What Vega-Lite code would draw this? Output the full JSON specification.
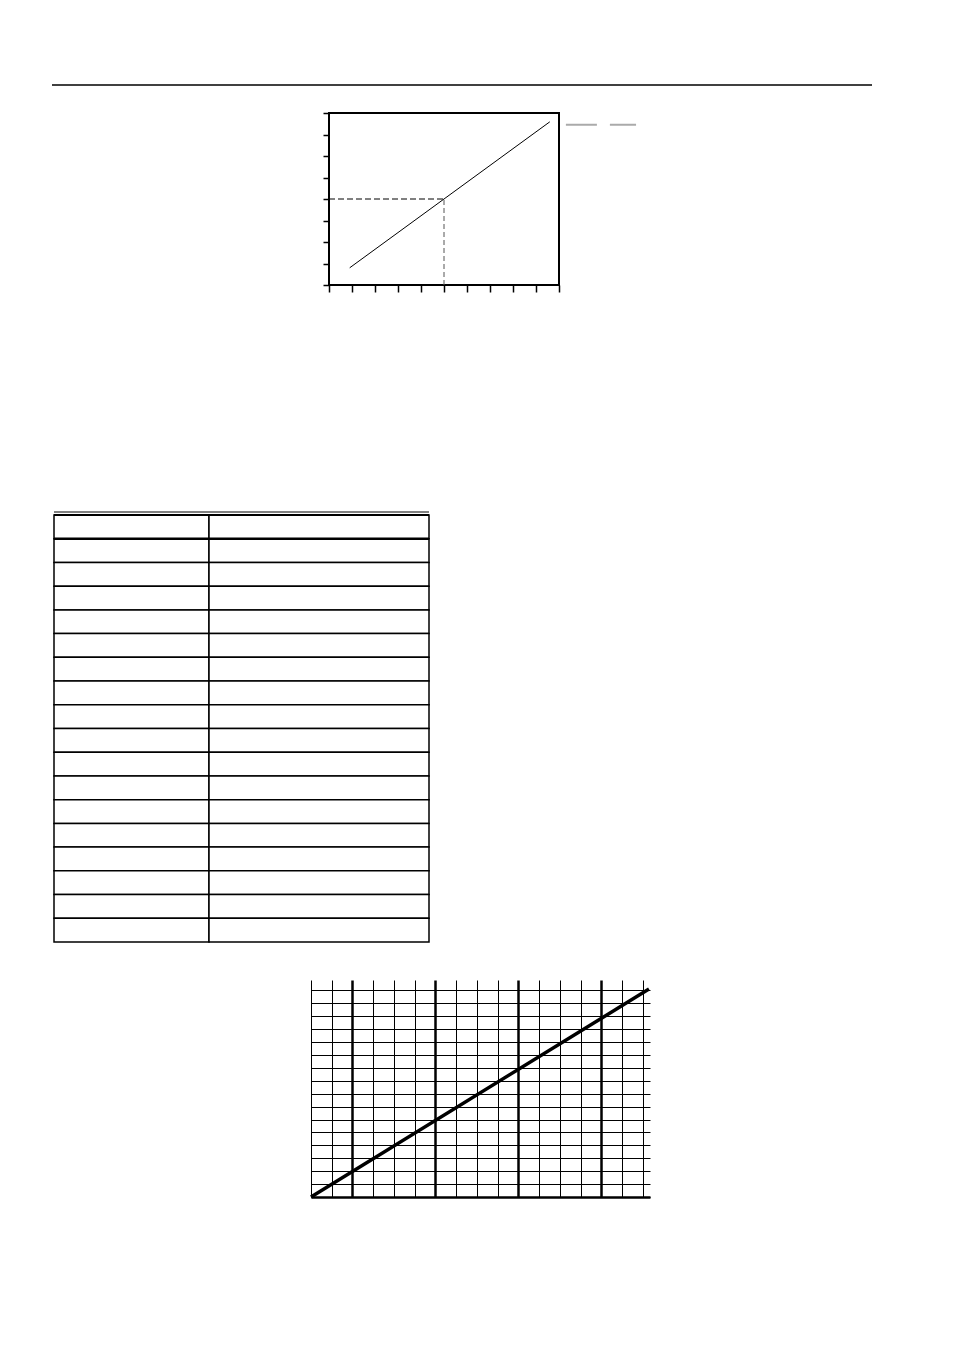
{
  "$schema": "https://vega.github.io/schema/vega-lite/v6.json",
  "padding": 0,
  "background": "white",
  "spacing": 0,
  "config": {
    "view": {"stroke": null},
    "concat": {"spacing": 0},
    "axis": {"minExtent": 0, "maxExtent": 400, "title": null}
  },
  "datasets": {
    "tableRows": [
      {"row": 0}, {"row": 1}, {"row": 2}, {"row": 3}, {"row": 4}, {"row": 5},
      {"row": 6}, {"row": 7}, {"row": 8}, {"row": 9}, {"row": 10}, {"row": 11},
      {"row": 12}, {"row": 13}, {"row": 14}, {"row": 15}, {"row": 16}, {"row": 17}
    ]
  },
  "vconcat": [
    {
      "bounds": "flush",
      "spacing": 0,
      "hconcat": [
        {"data": {"values": []}, "mark": "point", "width": 52, "height": 111},
        {
          "width": 820,
          "height": 85,
          "data": {"values": [{"y": 0}]},
          "mark": {"type": "rule", "color": "black", "strokeWidth": 1.3},
          "encoding": {
            "y": {"field": "y", "type": "quantitative", "scale": {"domain": [0, 1]}, "axis": null}
          }
        }
      ]
    },
    {
      "bounds": "flush",
      "spacing": 0,
      "hconcat": [
        {"data": {"values": []}, "mark": "point", "width": 329, "height": 398},
        {
          "width": 230,
          "height": 172,
          "view": {"stroke": "black", "strokeWidth": 2},
          "encoding": {
            "x": {
              "field": "x", "type": "quantitative",
              "scale": {"domain": [0, 10], "nice": false, "zero": false},
              "axis": {
                "values": [0, 1, 2, 3, 4, 5, 6, 7, 8, 9, 10],
                "labels": false, "domain": false, "grid": false,
                "ticks": true, "tickSize": 7, "tickWidth": 1.5, "tickColor": "black"
              }
            },
            "y": {
              "field": "y", "type": "quantitative",
              "scale": {"domain": [0, 8], "nice": false, "zero": false},
              "axis": {
                "values": [0, 1, 2, 3, 4, 5, 6, 7, 8],
                "labels": false, "domain": false, "grid": false,
                "ticks": true, "tickSize": 6, "tickWidth": 1.5, "tickColor": "black"
              }
            }
          },
          "layer": [
            {
              "data": {"values": [{"x": 0.9, "y": 0.8}, {"x": 9.6, "y": 7.59}]},
              "mark": {"type": "line", "color": "black", "strokeWidth": 1},
              "encoding": {}
            },
            {
              "data": {"values": [{"x": 0, "x2": 5, "y": 4}]},
              "mark": {"type": "rule", "color": "black", "strokeWidth": 1, "strokeDash": [6, 3]},
              "encoding": {"x2": {"field": "x2"}}
            },
            {
              "data": {"values": [{"x": 5, "y": 0, "y2": 4}]},
              "mark": {"type": "rule", "color": "#555555", "strokeWidth": 1, "strokeDash": [5, 3]},
              "encoding": {"y2": {"field": "y2"}}
            },
            {
              "data": {"values": [{"x": 10.3, "x2": 13.35, "y": 7.45}]},
              "mark": {"type": "rule", "color": "#aaaaaa", "strokeWidth": 2, "strokeDash": [31, 13]},
              "encoding": {"x2": {"field": "x2"}}
            }
          ]
        }
      ]
    },
    {
      "bounds": "flush",
      "spacing": 0,
      "hconcat": [
        {"data": {"values": []}, "mark": "point", "width": 54, "height": 464.5},
        {
          "width": 155,
          "height": 427,
          "data": {"name": "tableRows"},
          "encoding": {
            "y": {"field": "row", "type": "ordinal", "scale": {"paddingInner": 0, "paddingOuter": 0}, "axis": null}
          },
          "layer": [
            {"mark": {"type": "rect", "fill": "white", "stroke": "black", "strokeWidth": 1.5}},
            {
              "transform": [{"filter": "datum.row == 1"}],
              "mark": {"type": "rule", "color": "black", "strokeWidth": 2.5},
              "encoding": {"y": {"field": "row", "type": "ordinal", "bandPosition": 0}}
            },
            {
              "transform": [{"filter": "datum.row == 0"}],
              "mark": {"type": "rule", "color": "black", "strokeWidth": 2},
              "encoding": {"y": {"field": "row", "type": "ordinal", "bandPosition": 0}}
            },
            {
              "transform": [{"filter": "datum.row == 0"}],
              "mark": {"type": "rule", "color": "black", "strokeWidth": 1, "yOffset": -3},
              "encoding": {"y": {"field": "row", "type": "ordinal", "bandPosition": 0}}
            }
          ]
        },
        {
          "width": 220,
          "height": 427,
          "data": {"name": "tableRows"},
          "encoding": {
            "y": {"field": "row", "type": "ordinal", "scale": {"paddingInner": 0, "paddingOuter": 0}, "axis": null}
          },
          "layer": [
            {"mark": {"type": "rect", "fill": "white", "stroke": "black", "strokeWidth": 1.5}},
            {
              "transform": [{"filter": "datum.row == 1"}],
              "mark": {"type": "rule", "color": "black", "strokeWidth": 2.5},
              "encoding": {"y": {"field": "row", "type": "ordinal", "bandPosition": 0}}
            },
            {
              "transform": [{"filter": "datum.row == 0"}],
              "mark": {"type": "rule", "color": "black", "strokeWidth": 2},
              "encoding": {"y": {"field": "row", "type": "ordinal", "bandPosition": 0}}
            },
            {
              "transform": [{"filter": "datum.row == 0"}],
              "mark": {"type": "rule", "color": "black", "strokeWidth": 1, "yOffset": -3},
              "encoding": {"y": {"field": "row", "type": "ordinal", "bandPosition": 0}}
            }
          ]
        }
      ]
    },
    {
      "bounds": "flush",
      "spacing": 0,
      "hconcat": [
        {"data": {"values": []}, "mark": "point", "width": 311, "height": 220},
        {
          "width": 339,
          "height": 217,
          "data": {"values": [{"x": 0, "y": 0}, {"x": 16.3, "y": 16.1}]},
          "mark": {"type": "line", "color": "black", "strokeWidth": 3.5},
          "encoding": {
            "x": {
              "field": "x", "type": "quantitative",
              "scale": {"domain": [0, 16.35], "nice": false, "zero": false},
              "axis": {
                "values": [0, 1, 2, 3, 4, 5, 6, 7, 8, 9, 10, 11, 12, 13, 14, 15, 16],
                "labels": false, "ticks": false,
                "domain": true, "domainColor": "black", "domainWidth": 2.5,
                "grid": true, "gridColor": "black", "gridOpacity": 1,
                "gridWidth": {"condition": {"test": "indexof([2, 6, 10, 14], datum.value) >= 0", "value": 2.5}, "value": 1}
              }
            },
            "y": {
              "field": "y", "type": "quantitative",
              "scale": {"domain": [0, 16.8], "nice": false, "zero": false},
              "axis": {
                "values": [0, 1, 2, 3, 4, 5, 6, 7, 8, 9, 10, 11, 12, 13, 14, 15, 16],
                "labels": false, "ticks": false, "domain": false,
                "grid": true, "gridColor": "black", "gridOpacity": 1, "gridWidth": 1
              }
            }
          }
        }
      ]
    }
  ]
}
